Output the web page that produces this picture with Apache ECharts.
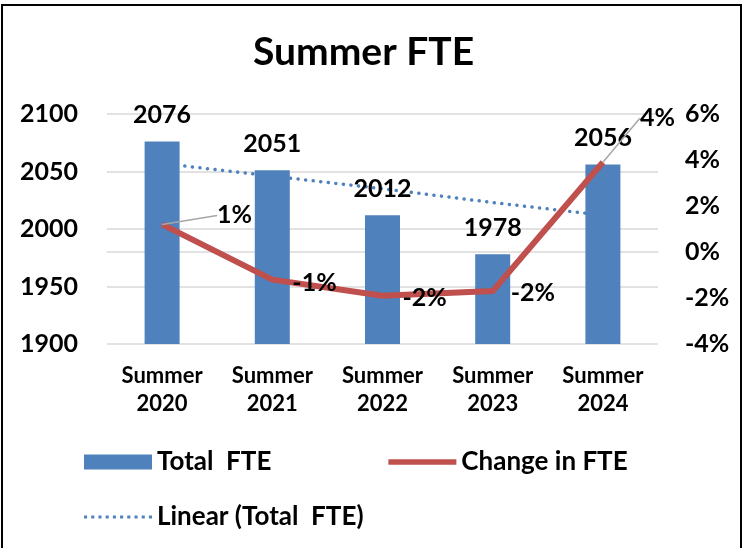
<!DOCTYPE html>
<html lang="en">
    <head>
        <meta charset="UTF-8" />
        <script type="text/javascript" src="https://cdn.jsdelivr.net/npm/echarts@6/dist/echarts.min.js"></script>
        <title>Summer FTE</title>
        <style type="text/css">
            body { margin: 0; background: #fff; }
            #chart { width: 744px; height: 548px; }
        </style>
    </head>
    <body>
        <div id="chart"></div>
        <script type="text/javascript">
            let categories = ["Summer\n2020", "Summer\n2021", "Summer\n2022", "Summer\n2023", "Summer\n2024"];
            let totalFte = [2076, 2051, 2012, 1978, 2056];
            let changePct = [1.2, -1.2, -1.9, -1.7, 3.9];
            // dotted trend line
            let trendFte = [2057, 2046, 2035, 2023, 2012];

            // where each % label sits relative to its point
            let pctLabelShift = [
                { dx: 53, dy: -9, line: true },
                { dx: 18, dy: 3 },
                { dx: 18, dy: 2 },
                { dx: 16, dy: 2 },
                { dx: 35, dy: -44, line: true },
            ];

            let fontFam = "Lato";
            let chart = echarts.init(document.getElementById("chart"));

            // legend icons
            let redLineIcon = "path://M0,0H72V6H0Z";
            let dotParts = [];
            for (let x = 0; x < 70; x += 7) dotParts.push("M" + x + ",0h3v3h-3Z");
            let dotLineIcon = "path://" + dotParts.join("");

            let legendText = { fontSize: 26, fontWeight: "bold", fontFamily: fontFam, color: "#000" };

            let option = {
                animation: false,
                backgroundColor: "#fff",
                textStyle: { fontFamily: fontFam, fontWeight: "bold", color: "#000" },
                title: {
                    text: "Summer FTE",
                    left: 253,
                    top: 33,
                    padding: 0,
                    textStyle: { fontSize: 39, fontWeight: "bold", fontFamily: fontFam, color: "#000" },
                },
                graphic: [
                    {
                        type: "rect",
                        shape: { x: 2, y: 5, width: 739, height: 560 },
                        style: { fill: "none", stroke: "#000", lineWidth: 2 },
                        silent: true,
                    },
                ],
                legend: [
                    {
                        data: [
                            { name: "Total  FTE", icon: "rect" },
                            { name: "Change in FTE", icon: redLineIcon },
                        ],
                        left: 84,
                        top: 449,
                        padding: 0,
                        itemWidth: 68,
                        itemHeight: 15,
                        itemGap: 117,
                        textStyle: legendText,
                    },
                    {
                        data: [{ name: "Linear (Total  FTE)", icon: dotLineIcon }],
                        left: 84,
                        top: 504,
                        padding: 0,
                        itemWidth: 68,
                        itemHeight: 15,
                        textStyle: legendText,
                    },
                ],
                grid: { left: 107, right: 86, top: 114, bottom: 204 },
                xAxis: {
                    type: "category",
                    data: categories,
                    axisTick: { show: false },
                    axisLine: { lineStyle: { color: "#d9d9d9", width: 1.5 } },
                    axisLabel: {
                        fontSize: 22,
                        fontWeight: "bold",
                        lineHeight: 28,
                        margin: 18,
                        color: "#000",
                    },
                },
                yAxis: [
                    {
                        type: "value",
                        min: 1900,
                        max: 2100,
                        interval: 50,
                        axisLabel: {
                            fontSize: 25,
                            fontWeight: "bold",
                            color: "#000",
                            margin: 29,
                            formatter: (v) => String(v),
                        },
                        splitLine: { lineStyle: { color: "#d9d9d9", width: 1.5 } },
                    },
                    {
                        type: "value",
                        min: -4,
                        max: 6,
                        interval: 2,
                        axisLabel: {
                            fontSize: 25,
                            fontWeight: "bold",
                            color: "#000",
                            margin: 27,
                            formatter: (v) => v + "%",
                        },
                        splitLine: { show: false },
                    },
                ],
                series: [
                    {
                        name: "Linear (Total  FTE)",
                        type: "line",
                        data: trendFte,
                        symbol: "none",
                        z: 1,
                        itemStyle: { color: "#4F81BD" },
                        lineStyle: { color: "#4F81BD", width: 3.5, type: [0.1, 7.5], cap: "round" },
                    },
                    {
                        name: "Total  FTE",
                        type: "bar",
                        data: totalFte,
                        barWidth: 35,
                        z: 2,
                        itemStyle: { color: "#4F81BD" },
                        label: {
                            show: true,
                            position: "top",
                            distance: 14,
                            fontSize: 25,
                            fontWeight: "bold",
                            color: "#000",
                        },
                    },
                    {
                        name: "Change in FTE",
                        type: "line",
                        yAxisIndex: 1,
                        z: 3,
                        symbol: "circle",
                        symbolSize: 0,
                        showSymbol: true,
                        itemStyle: { color: "#C0504D" },
                        lineStyle: { color: "#C0504D", width: 6 },
                        data: changePct.map((v, i) => ({
                            value: v,
                            labelLine: { show: !!pctLabelShift[i].line },
                        })),
                        label: {
                            show: true,
                            position: "right",
                            distance: 2,
                            fontSize: 25,
                            fontWeight: "bold",
                            fontFamily: fontFam,
                            color: "#000",
                            textBorderWidth: 0,
                            textBorderColor: "transparent",
                            formatter: (p) => Math.round(p.value) + "%",
                        },
                        labelLine: {
                            lineStyle: { color: "#a6a6a6", width: 1.5 },
                        },
                        labelLayout: (p) => ({
                            dx: pctLabelShift[p.dataIndex].dx,
                            dy: pctLabelShift[p.dataIndex].dy,
                        }),
                    },
                ],
            };
            chart.setOption(option);
        </script>
    </body>
</html>
